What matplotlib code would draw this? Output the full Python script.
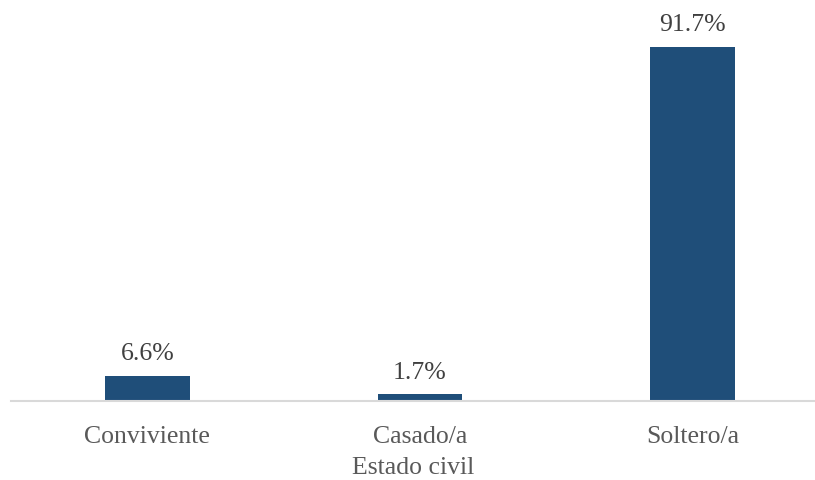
import matplotlib
matplotlib.use("Agg")
from matplotlib import pyplot as plt

categories = ["Conviviente", "Casado/a", "Soltero/a"]
values = [6.6, 1.7, 91.7]
value_labels = ["6.6%", "1.7%", "91.7%"]

plt.rcParams['font.family'] = ['Liberation Serif', 'DejaVu Serif']

fig = plt.figure(figsize=(8.15, 4.80), dpi=100)
ax = fig.add_axes([11 / 815, 1 - 401 / 480, 1 - 11 / 815, 386 / 480])

x = range(len(categories))
bars = ax.bar(x, values, width=0.31, color="#1F4E79", zorder=2)

for b, lab in zip(bars, value_labels):
    ax.text(b.get_x() + b.get_width() / 2, b.get_height() + 2.8, lab,
            ha="center", va="bottom", fontsize=18.5, color="#404040")

ax.set_xlim(-0.5, 2.45)
ax.set_ylim(0, 100)
ax.set_xticks(list(x))
ax.set_xticklabels(categories, fontsize=18.5, color="#595959")
ax.tick_params(axis="x", length=0, pad=18)
ax.set_yticks([])
ax.set_xlabel("Estado civil", fontsize=18.5, color="#595959", labelpad=6.5)

for s in ["top", "right", "left"]:
    ax.spines[s].set_visible(False)
ax.spines["bottom"].set_color("#D9D9D9")
ax.spines["bottom"].set_linewidth(1.5)

fig.savefig("out.png", dpi=100)
